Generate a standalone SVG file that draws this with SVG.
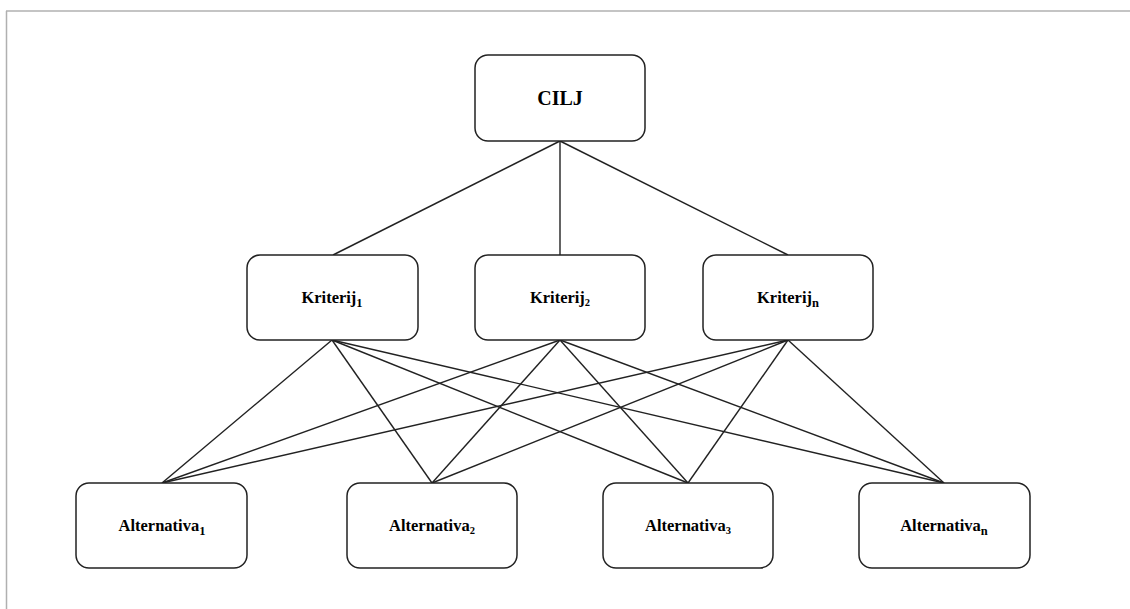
<svg xmlns="http://www.w3.org/2000/svg" width="1130" height="609" viewBox="0 0 1130 609">
<style>
.box{fill:#fff;stroke:#222;stroke-width:1.5}
text{font-family:'Liberation Serif','DejaVu Serif',serif;font-weight:bold;fill:#000;text-anchor:middle}
.k{font-size:16.5px}
.t{font-size:20px}
.sb{font-size:12.5px}
.ss{font-size:10.5px}
.c line{stroke:#222;stroke-width:1.4}
</style>
<rect width="1130" height="609" fill="#fff"/>
<line x1="6" y1="11" x2="1130" y2="11" stroke="#b0b0b0" stroke-width="1.5"/>
<line x1="6.5" y1="11" x2="6.5" y2="609" stroke="#b0b0b0" stroke-width="1.5"/>
<g class="c" id="connectors">
<line x1="560" y1="141" x2="333" y2="255"/>
<line x1="560" y1="141" x2="560" y2="255"/>
<line x1="560" y1="141" x2="788" y2="255"/>
<line x1="332" y1="340" x2="162" y2="483"/>
<line x1="332" y1="340" x2="432" y2="483"/>
<line x1="332" y1="340" x2="688" y2="483"/>
<line x1="332" y1="340" x2="944" y2="483"/>
<line x1="560" y1="340" x2="162" y2="483"/>
<line x1="560" y1="340" x2="432" y2="483"/>
<line x1="560" y1="340" x2="688" y2="483"/>
<line x1="560" y1="340" x2="944" y2="483"/>
<line x1="788" y1="340" x2="162" y2="483"/>
<line x1="788" y1="340" x2="432" y2="483"/>
<line x1="788" y1="340" x2="688" y2="483"/>
<line x1="788" y1="340" x2="944" y2="483"/>
</g>
<g id="cilj"><rect class="box" x="475" y="55" width="170" height="86" rx="13"/><text class="t" x="560" y="105" font-family="Liberation Serif, serif">CILJ</text></g>
<g id="kriterij1"><rect class="box" x="247" y="255" width="171" height="85" rx="13"/><text class="k" x="332" y="303" font-family="Liberation Serif, serif">Kriterij<tspan class="sb" dy="4">1</tspan></text></g>
<g id="kriterij2"><rect class="box" x="475" y="255" width="170" height="85" rx="13"/><text class="k" x="560" y="303" font-family="Liberation Serif, serif">Kriterij<tspan class="ss" dy="3">2</tspan></text></g>
<g id="kriterijn"><rect class="box" x="703" y="255" width="170" height="85" rx="13"/><text class="k" x="788" y="303" font-family="Liberation Serif, serif">Kriterij<tspan class="sb" dy="4">n</tspan></text></g>
<g id="alt1"><rect class="box" x="76" y="483" width="171" height="85" rx="13"/><text class="k" x="162" y="531" font-family="Liberation Serif, serif">Alternativa<tspan class="sb" dy="4">1</tspan></text></g>
<g id="alt2"><rect class="box" x="347" y="483" width="170" height="85" rx="13"/><text class="k" x="432" y="531" font-family="Liberation Serif, serif">Alternativa<tspan class="ss" dy="3">2</tspan></text></g>
<g id="alt3"><rect class="box" x="603" y="483" width="170" height="85" rx="13"/><text class="k" x="688" y="531" font-family="Liberation Serif, serif">Alternativa<tspan class="ss" dy="3">3</tspan></text></g>
<g id="altn"><rect class="box" x="859" y="483" width="171" height="85" rx="13"/><text class="k" x="944" y="531" font-family="Liberation Serif, serif">Alternativa<tspan class="sb" dy="4">n</tspan></text></g>
</svg>
